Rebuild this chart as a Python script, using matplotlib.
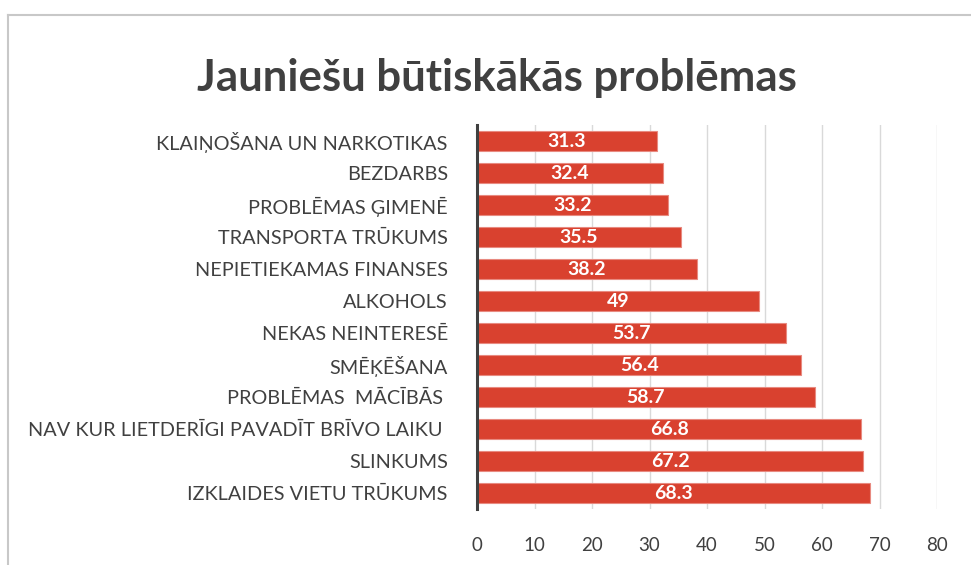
#!/usr/bin/env python3
"""Horizontal bar chart: main problems of young people (Latvian survey)."""

import matplotlib
matplotlib.use("Agg")
import matplotlib.pyplot as plt
from matplotlib.lines import Line2D

plt.rcParams["font.family"] = ["Lato", "DejaVu Sans"]

TITLE = "Jauniešu būtiskākās problēmas"

# top to bottom, as shown in the chart
CATEGORIES = [
    "KLAIŅOŠANA UN NARKOTIKAS",
    "BEZDARBS",
    "PROBLĒMAS ĢIMENĒ",
    "TRANSPORTA TRŪKUMS",
    "NEPIETIEKAMAS FINANSES",
    "ALKOHOLS",
    "NEKAS NEINTERESĒ",
    "SMĒĶĒŠANA",
    "PROBLĒMAS  MĀCĪBĀS ",
    "NAV KUR LIETDERĪGI PAVADĪT BRĪVO LAIKU ",
    "SLINKUMS",
    "IZKLAIDES VIETU TRŪKUMS",
]
VALUES = [31.3, 32.4, 33.2, 35.5, 38.2, 49, 53.7, 56.4, 58.7, 66.8, 67.2, 68.3]
X_TICKS = [0, 10, 20, 30, 40, 50, 60, 70, 80]

TEXT = "#404040"
BAR = "#D9412F"
GRID = "#D9D9D9"

fig = plt.figure(figsize=(9.71, 5.65), dpi=100, facecolor="white")
ax = fig.add_axes([477 / 971, 1 - 509 / 565, 460 / 971, 384 / 565])

y = list(range(len(CATEGORIES)))
bars = ax.barh(y, VALUES, height=0.6, color=BAR, edgecolor="#E88A80", linewidth=0.8, zorder=3)
for rect, v in zip(bars, VALUES):
    ax.text(rect.get_width() / 2, rect.get_y() + rect.get_height() / 2 + 0.03, f"{v:g}",
            ha="center", va="center", color="white", fontsize=14, fontweight="bold", zorder=4)

ax.set_ylim(len(CATEGORIES) - 0.5, -0.5)
ax.set_xlim(0, 80)
ax.set_yticks(y)
ax.set_yticklabels(CATEGORIES, fontsize=14.3, color=TEXT)
ax.set_xticks(X_TICKS)
ax.set_xticklabels([str(t) for t in X_TICKS], fontsize=13.5, color=TEXT)
ax.tick_params(axis="y", length=0, pad=21)
ax.tick_params(axis="x", length=0, pad=20)

ax.grid(axis="x", color=GRID, linewidth=1, zorder=0)
ax.set_axisbelow(True)
for side in ("top", "right", "bottom"):
    ax.spines[side].set_visible(False)
ax.spines["left"].set_color(TEXT)
ax.spines["left"].set_linewidth(2.2)
ax.spines["left"].set_zorder(5)

fig.text(497 / 971, 1 - 78 / 565, TITLE, ha="center", va="center",
         fontsize=31.5, fontweight="bold", color=TEXT)

# chart frame (clipped by the image on the right and bottom)
fig.add_artist(Line2D([8 / 971, 8 / 971], [0, 1 - 15 / 565], transform=fig.transFigure,
                      color="#C8C8C8", linewidth=1.5))
fig.add_artist(Line2D([8 / 971, 1], [1 - 15 / 565, 1 - 15 / 565], transform=fig.transFigure,
                      color="#C8C8C8", linewidth=1.5))

fig.savefig("out.png", dpi=100, facecolor="white")
